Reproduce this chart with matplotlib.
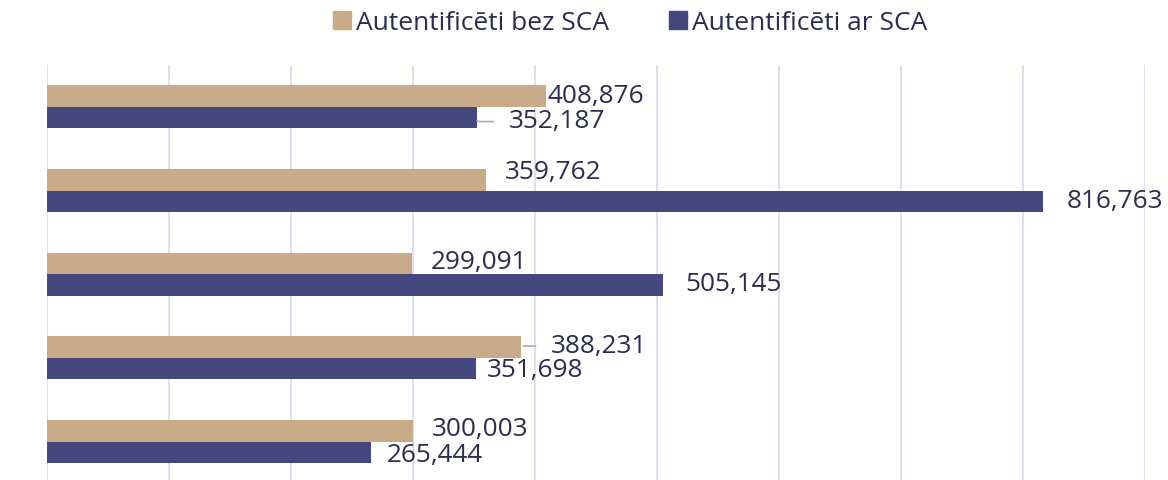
import matplotlib
matplotlib.use("Agg")
import matplotlib.pyplot as plt
from matplotlib.patches import Patch

# data (top group first)
series_names = ["Autentificēti bez SCA", "Autentificēti ar SCA"]
bez_sca = [408876, 359762, 299091, 388231, 300003]
ar_sca = [352187, 816763, 505145, 351698, 265444]

# label placement (pixel offsets from bar end: dx, dy, leader line)
bez_offsets = [(2, 0, False), (19, 7, False), (19, 1, False), (30, 1, True), (19, 1, False)]
ar_offsets = [(32, -4, True), (23, 0, False), (22, 0, False), (11, -2, False), (16, -3, False)]

tan = "#c9aa88"
navy = "#45477f"
grid_col = "#d9d9ee"
text_col = "#2c2c50"

plt.rcParams["font.family"] = ["Open Sans", "DejaVu Sans"]

fig = plt.figure(figsize=(11.68, 4.8), dpi=100)
W, H = 1168, 480
ax = fig.add_axes([47 / W, 0, (1145 - 47) / W, (480 - 65) / H])

n = len(bez_sca)
ypos = list(range(n))
bh = 0.257
ax.barh([y - bh / 2 for y in ypos], bez_sca, height=bh, color=tan)
ax.barh([y + bh / 2 for y in ypos], ar_sca, height=bh, color=navy)

ax.set_xlim(0, 900000)
ax.set_ylim(4.46, -0.5)
ax.set_xticks(range(0, 900001, 100000))
ax.grid(axis="x", color=grid_col, linewidth=1.2)
ax.set_axisbelow(True)
ax.tick_params(left=False, bottom=False, labelleft=False, labelbottom=False)
for s in ax.spines.values():
    s.set_visible(False)


def put_labels(vals, offs, shift):
    for y, v, (dx, dy, leader) in zip(ypos, vals, offs):
        yc = y + shift
        ax.annotate(f"{v:,}", xy=(v, yc), xytext=(dx, dy),
                    textcoords="offset pixels", ha="left", va="center",
                    fontsize=18.8, color=text_col)
        if leader:
            ax.annotate("", xy=(v, yc), xytext=(dx - 15, dy),
                        textcoords="offset pixels",
                        arrowprops=dict(arrowstyle="-", color="#a9a9cf",
                                        lw=1.2, shrinkA=0, shrinkB=2,
                                        connectionstyle="angle,angleA=0,angleB=90,rad=3"))


put_labels(bez_sca, bez_offsets, -bh / 2)
put_labels(ar_sca, ar_offsets, bh / 2)

handles = [Patch(color=tan), Patch(color=navy)]
fig.legend(handles, series_names, loc="center", bbox_to_anchor=(630 / W, 1 - 23 / H),
           ncol=2, frameon=False, fontsize=19, labelcolor=text_col,
           handlelength=0.68, handleheight=0.68, handletextpad=0.18, columnspacing=2.3)

fig.savefig("out.png", dpi=100)
